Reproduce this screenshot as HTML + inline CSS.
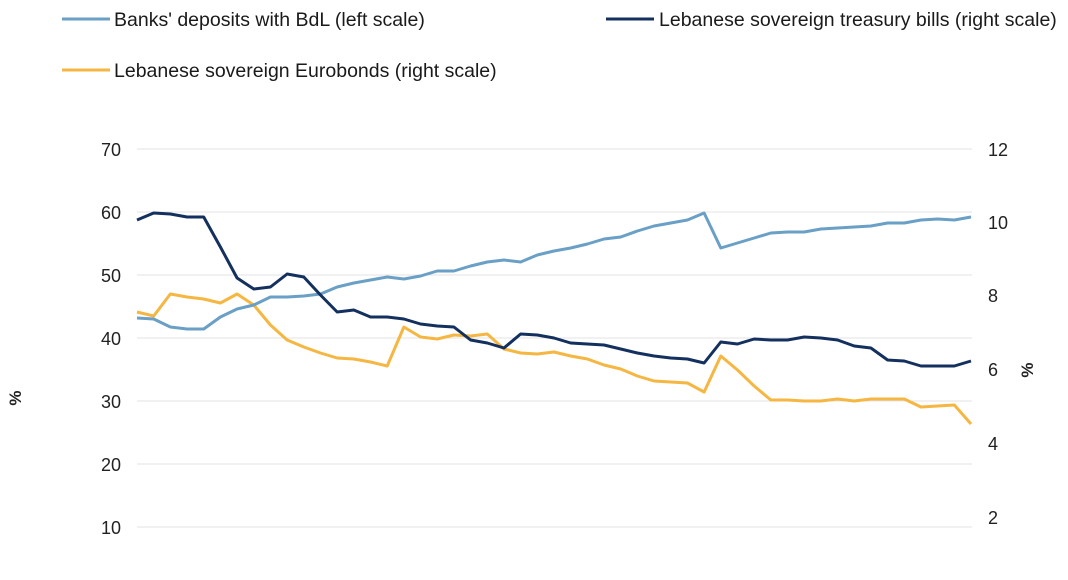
<!DOCTYPE html>
<html><head><meta charset="utf-8"><style>
body{margin:0;background:#fff;}
svg{display:block;font-family:"Liberation Sans",Arial,sans-serif;}
</style></head><body>
<svg width="1068" height="580" viewBox="0 0 1068 580" xmlns="http://www.w3.org/2000/svg">
<rect width="1068" height="580" fill="#fff"/>
<g stroke="#e3e3e3" stroke-width="1">
<line x1="137" x2="972" y1="149" y2="149"/><line x1="137" x2="972" y1="212" y2="212"/>
<line x1="137" x2="972" y1="275" y2="275"/><line x1="137" x2="972" y1="338" y2="338"/>
<line x1="137" x2="972" y1="401" y2="401"/><line x1="137" x2="972" y1="464" y2="464"/>
<line x1="137" x2="972" y1="527" y2="527"/>
</g>
<g font-size="18" fill="#222" text-anchor="end">
<text x="121" y="156">70</text><text x="121" y="219">60</text><text x="121" y="282">50</text>
<text x="121" y="345">40</text><text x="121" y="408">30</text><text x="121" y="471">20</text><text x="121" y="534">10</text>
</g>
<g font-size="18" fill="#222">
<text x="988" y="156">12</text><text x="988" y="229">10</text><text x="988" y="302">8</text>
<text x="988" y="376">6</text><text x="988" y="450">4</text><text x="988" y="524">2</text>
</g>
<text transform="translate(21,398) rotate(-90)" font-size="17" font-weight="bold" fill="#222" text-anchor="middle">%</text>
<text transform="translate(1033,370) rotate(-90)" font-size="17" font-weight="bold" fill="#222" text-anchor="middle">%</text>
<g transform="translate(137,0) scale(16.68,1)" fill="none" stroke-width="3" stroke-linejoin="round">
<polyline vector-effect="non-scaling-stroke" stroke="#f5b642" points="0,312 1,316 2,294 3,297 4,299 5,303 6,294 7,305 8,325 9,340 10,347 11,353 12,358 13,359 14,362 15,366 16,327 17,337 18,339 19,335 20,336 21,334 22,349 23,353 24,354 25,352 26,356 27,359 28,365 29,369 30,376 31,381 32,382 33,383 34,392 35,356 36,370 37,386 38,400 39,400 40,401 41,401 42,399 43,401 44,399 45,399 46,399 47,407 48,406 49,405 50,424"/>
<polyline vector-effect="non-scaling-stroke" stroke="#6a9fc6" points="0,318 1,319 2,327 3,329 4,329 5,317 6,309 7,305 8,297 9,297 10,296 11,294 12,287 13,283 14,280 15,277 16,279 17,276 18,271 19,271 20,266 21,262 22,260 23,262 24,255 25,251 26,248 27,244 28,239 29,237 30,231 31,226 32,223 33,220 34,213 35,248 36,243 37,238 38,233 39,232 40,232 41,229 42,228 43,227 44,226 45,223 46,223 47,220 48,219 49,220 50,217"/>
<polyline vector-effect="non-scaling-stroke" stroke="#13305e" points="0,220 1,213 2,214 3,217 4,217 5,247 6,278 7,289 8,287 9,274 10,277 11,295 12,312 13,310 14,317 15,317 16,319 17,324 18,326 19,327 20,340 21,343 22,348 23,334 24,335 25,338 26,343 27,344 28,345 29,349 30,353 31,356 32,358 33,359 34,363 35,342 36,344 37,339 38,340 39,340 40,337 41,338 42,340 43,346 44,348 45,360 46,361 47,366 48,366 49,366 50,361"/>
</g>
<g font-size="19.5" fill="#1a1a1a">
<line x1="62" x2="110" y1="19" y2="19" stroke="#6a9fc6" stroke-width="3"/>
<text x="114" y="26">Banks' deposits with BdL (left scale)</text>
<line x1="606" x2="654" y1="19" y2="19" stroke="#13305e" stroke-width="3"/>
<text x="659" y="26">Lebanese sovereign treasury bills (right scale)</text>
<line x1="62" x2="110" y1="70" y2="70" stroke="#f5b642" stroke-width="3"/>
<text x="114" y="77">Lebanese sovereign Eurobonds (right scale)</text>
</g>
</svg>
</body></html>
